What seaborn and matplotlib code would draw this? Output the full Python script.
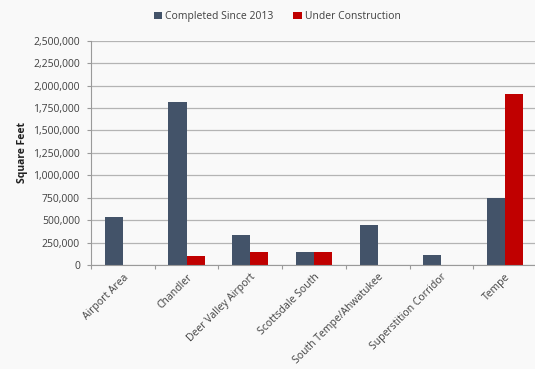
import numpy as np
import pandas as pd
import matplotlib
matplotlib.use("Agg")
import matplotlib.pyplot as plt
import seaborn as sns
from matplotlib.ticker import FuncFormatter, FixedLocator

submarkets = ["Airport Area", "Chandler", "Deer Valley Airport", "Scottsdale South",
              "South Tempe/Ahwatukee", "Superstition Corridor", "Tempe"]
completed = [540000, 1820000, 330000, 140000, 450000, 110000, 745000]
under_construction = [0, 100000, 145000, 140000, 0, 0, 1905000]
series = ["Completed Since 2013", "Under Construction"]

df = pd.DataFrame({
    "submarket": submarkets * 2,
    "sqft": completed + under_construction,
    "status": [series[0]] * len(submarkets) + [series[1]] * len(submarkets),
})

sns.set_style("white")
plt.rcParams["font.family"] = ["Open Sans", "DejaVu Sans"]

fig = plt.figure(figsize=(5.35, 3.69), dpi=100)
fig.patch.set_facecolor("#f9f9f9")
ax = fig.add_axes([0.1701, 0.2818, 0.8336, 0.6079])
ax.set_facecolor("#f9f9f9")

sns.barplot(data=df, x="submarket", y="sqft", hue="status", ax=ax,
            palette=["#435369", "#C00000"], width=0.57, saturation=1,
            edgecolor="none", legend=True)

ax.set_ylim(0, 2500000)
ax.set_xlim(-0.5, len(submarkets) - 0.5)
ax.yaxis.set_major_locator(FixedLocator(np.arange(0, 2500001, 250000)))
ax.yaxis.set_major_formatter(FuncFormatter(lambda v, p: f"{int(v):,}"))
ax.grid(axis="y", color="#b4b4b4", linewidth=0.9)
ax.set_axisbelow(True)

for side in ["top", "right"]:
    ax.spines[side].set_visible(False)
ax.spines["left"].set_color("#9a9a9a")
ax.spines["bottom"].set_color("#9a9a9a")

ax.tick_params(axis="y", labelsize=7.5, colors="#404040", length=3, width=0.8,
               direction="out", left=True, color="#9a9a9a", pad=5)
ax.set_xticks(range(len(submarkets)))
ax.set_xticklabels(submarkets, rotation=45, ha="right", rotation_mode="anchor",
                   fontsize=7.5, color="#404040")
ax.tick_params(axis="x", length=0, pad=5)
ax.set_xticks(np.arange(-0.5, len(submarkets) - 0.4, 1), minor=True)
ax.tick_params(axis="x", which="minor", length=3, width=0.8, color="#9a9a9a",
               bottom=True, direction="out")

ax.set_xlabel("")
ax.set_ylabel("Square Feet", fontsize=7.5, fontweight="bold", color="#202020", labelpad=4)

handles, labels = ax.get_legend_handles_labels()
ax.get_legend().remove()
fig.legend(handles, labels, loc="center", bbox_to_anchor=(0.518, 0.955), ncol=2,
           frameon=False, fontsize=7.5, handlelength=0.8, handleheight=0.8,
           handletextpad=0.3, columnspacing=1.9, labelcolor="#404040")

fig.savefig("out.png", dpi=100, facecolor=fig.get_facecolor())
